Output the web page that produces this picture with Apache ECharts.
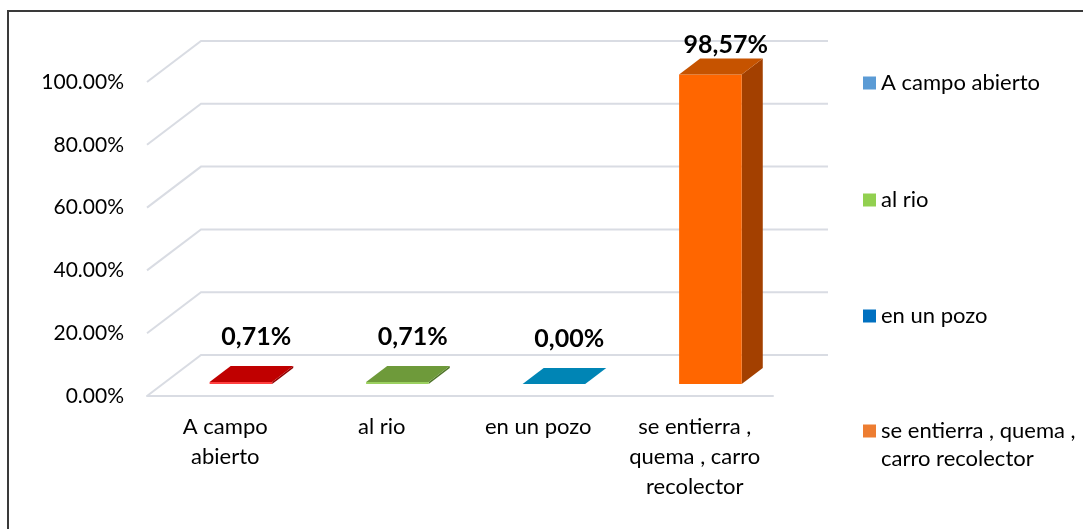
<!DOCTYPE html>
<html>
<head>
<meta charset="utf-8">
<script src="https://cdn.jsdelivr.net/npm/echarts@6/dist/echarts.min.js"></script>
<style>
html,body{margin:0;padding:0;background:#fff;}
#c{width:1083px;height:529px;}
</style>
</head>
<body>
<div id="c"></div>
<script>
// ---- data ----
var categories = ['A campo abierto', 'al rio', 'en un pozo', 'se entierra , quema , carro recolector'];
var axisLabels = ['A campo\nabierto', 'al rio', 'en un pozo', 'se entierra ,\nquema , carro\nrecolector'];
var legendLabels = ['A campo abierto', 'al rio', 'en un pozo', ' \nse entierra , quema ,\ncarro recolector'];
var values = [0.71, 0.71, 0.00, 98.57];
var yTicks = [0, 20, 40, 60, 80, 100];
var yTickLabels = ['0.00%', '20.00%', '40.00%', '60.00%', '80.00%', '100.00%'];

// ---- styles ----
var legendColors = ['#5B9BD5', '#92D050', '#0070C0', '#ED7D31'];
var frontColors = ['#FF4040', '#9BD060', '#30B8E8', '#FF6600'];
var topColors = ['#C00000', '#6E9A3A', '#0085B5', '#C65300'];
var sideColors = ['#900000', '#50752A', '#006488', '#A34000'];
var DX = 54, DY = -41;       // depth vector of the 3D box
var F1 = 0.29, F2 = 0.68;    // bar depth position
var GRID = '#D9DCE3';
var FONT = 'Lato';

var chart = echarts.init(document.getElementById('c'));

function renderGrid(params, api) {
  var cs = params.coordSys;
  var y = api.coord([0, api.value(1)])[1];
  var x0 = cs.x;
  return {
    type: 'polyline',
    shape: { points: [[x0, y], [x0 + DX, y + DY], [x0 + cs.width + DX + 1, y + DY]] },
    style: { stroke: GRID, lineWidth: 2, fill: null },
    silent: true
  };
}

function renderBar(params, api) {
  var cs = params.coordSys;
  var cat = api.value(0), v = api.value(1);
  var base = api.coord([cat, 0]);
  var top = api.coord([cat, v]);
  var bw = api.size([1, 0])[0];
  var w = bw * 0.4;
  var ax = DX * F1, ay = DY * F1;
  var ddx = DX * (F2 - F1), ddy = DY * (F2 - F1);
  var x0 = base[0] - w / 2 + ax, x1 = x0 + w;
  var yb = base[1] + ay, yt = top[1] + ay;
  var i = cat;
  var label = v.toFixed(2).replace('.', ',') + '%';
  var ly = Math.max(yt + ddy - 29, cs.y - 37);
  return {
    type: 'group',
    children: [
      { type: 'polygon', shape: { points: [[x1, yb], [x1 + ddx, yb + ddy], [x1 + ddx, yt + ddy], [x1, yt]] },
        style: { fill: sideColors[i] } },
      { type: 'polygon', shape: { points: [[x0, yb], [x1, yb], [x1, yt], [x0, yt]] },
        style: { fill: frontColors[i] } },
      { type: 'polygon', shape: { points: [[x0, yt], [x1, yt], [x1 + ddx, yt + ddy], [x0 + ddx, yt + ddy]] },
        style: { fill: topColors[i] } },
      { type: 'text', x: base[0] + 31, y: ly,
        style: { text: label, fill: '#000', font: 'bold 25px ' + FONT, align: 'center', verticalAlign: 'middle' } }
    ]
  };
}

var series = [{
  type: 'custom',
  name: 'grid',
  renderItem: renderGrid,
  data: yTicks.map(function (t) { return [0, t]; }),
  z: 1,
  silent: true
}];
categories.forEach(function (c, i) {
  series.push({
    type: 'custom',
    name: c,
    itemStyle: { color: legendColors[i] },
    renderItem: renderBar,
    data: [[i, values[i]]],
    z: 3
  });
});

var legendCenters = [83, 200, 316, 431];
var legends = categories.map(function (c, i) {
  var last = i === categories.length - 1;
  return {
    left: 863,
    top: last ? legendCenters[i] - 42 : legendCenters[i] - 14,
    orient: 'vertical',
    padding: 0,
    itemWidth: 13,
    itemHeight: 13,
    icon: 'rect',
    selectedMode: false,
    formatter: function (n) { return legendLabels[categories.indexOf(n)]; },
    textStyle: { fontFamily: FONT, fontSize: 22, color: '#000', lineHeight: 28 },
    data: [{ name: c }]
  };
});

chart.setOption({
  animation: false,
  backgroundColor: '#fff',
  graphic: [{
    type: 'rect', shape: { x: 8, y: 11, width: 1200, height: 700 },
    style: { fill: null, stroke: '#3A3A3A', lineWidth: 2 }, silent: true
  }],
  legend: legends,
  grid: { left: 147, right: 310, top: 82, bottom: 133 },
  xAxis: {
    type: 'category',
    data: categories,
    axisLine: { show: true, lineStyle: { color: GRID, width: 2 } },
    axisTick: { show: false },
    axisLabel: {
      interval: 0, margin: 16, lineHeight: 30,
      fontFamily: FONT, fontSize: 22, color: '#000',
      formatter: function (v, idx) { return axisLabels[idx]; }
    },
    splitLine: { show: false }
  },
  yAxis: {
    type: 'value',
    min: 0, max: 100, interval: 20,
    axisLine: { show: false },
    axisTick: { show: false },
    splitLine: { show: false },
    axisLabel: {
      margin: 23, fontFamily: FONT, fontSize: 21, color: '#000',
      formatter: function (v) { return yTickLabels[yTicks.indexOf(v)]; }
    }
  },
  series: series
});
</script>
</body>
</html>
